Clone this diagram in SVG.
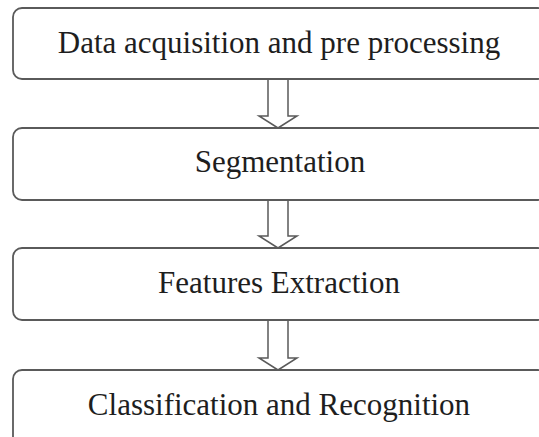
<svg xmlns="http://www.w3.org/2000/svg" width="539" height="437" viewBox="0 0 539 437">
<style>
.box{fill:#fff;stroke:#5a5a5a;stroke-width:1.8}
.lbl{font-family:"Liberation Serif","Times New Roman",serif;font-size:31px;fill:#1e1e1e;text-anchor:middle}
.arr{fill:#fff;stroke:#5a5a5a;stroke-width:1.5;stroke-linejoin:miter}
</style>
<rect width="539" height="437" fill="#fff"/>
<g id="connectors">
<path class="arr" d="M268,79 V116 H259 L278,128 L297,116 H288 V79"/>
<path class="arr" d="M268,200 V236 H259 L278,248 L297,236 H288 V200"/>
<path class="arr" d="M268,320 V358 H259 L278,370 L297,358 H288 V320"/>
</g>
<g id="node1"><rect class="box" x="13" y="8" width="534" height="71" rx="9"/><text class="lbl" x="279" y="53">Data acquisition and pre processing</text></g>
<g id="node2"><rect class="box" x="13" y="128" width="534" height="72" rx="9"/><text class="lbl" x="280" y="172">Segmentation</text></g>
<g id="node3"><rect class="box" x="13" y="248" width="534" height="72" rx="9"/><text class="lbl" x="279" y="293">Features Extraction</text></g>
<g id="node4"><rect class="box" x="13" y="370" width="534" height="80" rx="9"/><text class="lbl" x="279" y="415">Classification and Recognition</text></g>
</svg>
